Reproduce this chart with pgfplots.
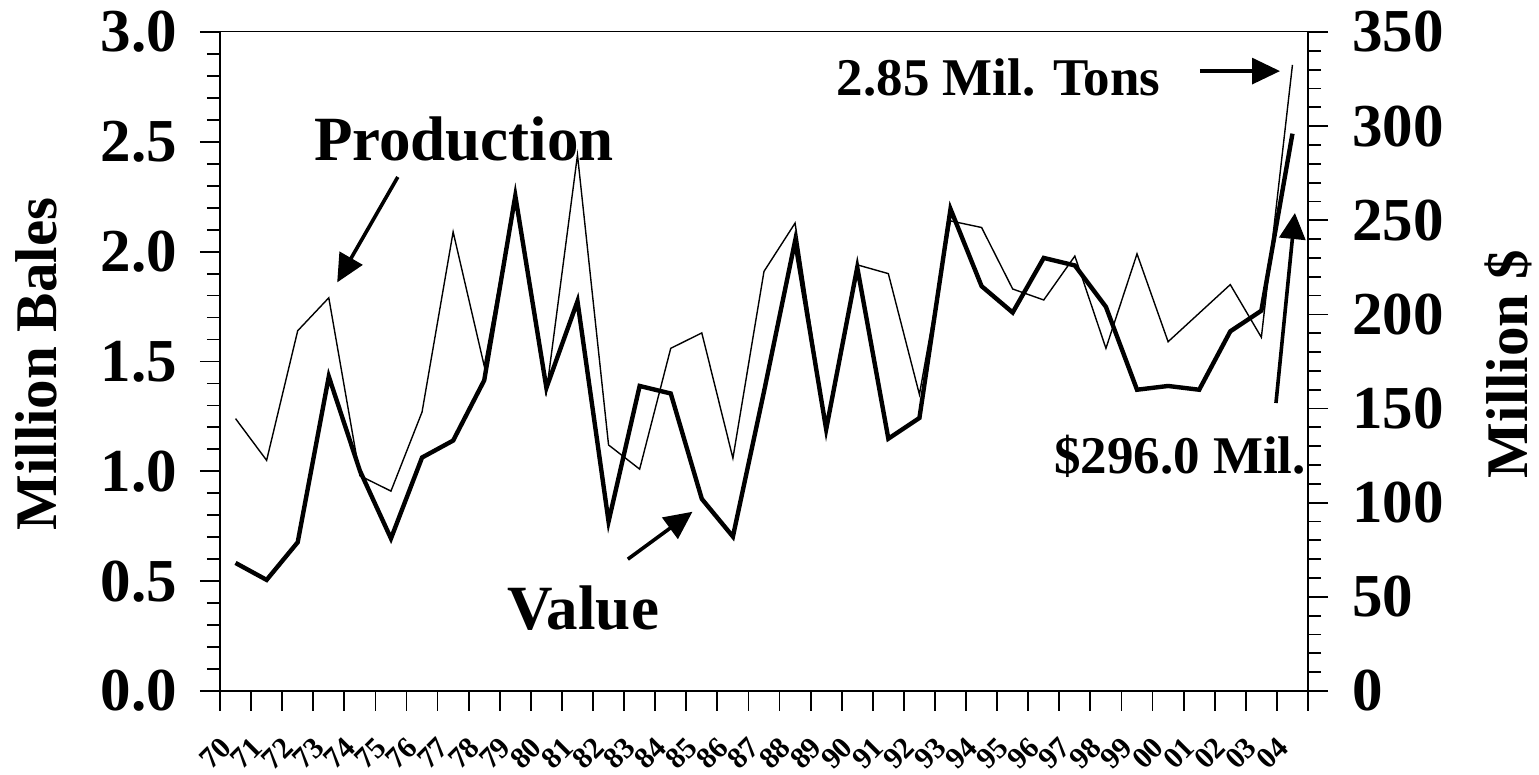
\documentclass[border=0pt]{standalone}
\usepackage{fontspec}
\setmainfont{Liberation Serif}
\usepackage{pgfplots}
\usepackage{pgfplotstable}
\pgfplotsset{compat=1.18}
\usetikzlibrary{arrows.meta}

\pgfplotstableread{
idx prod value
0 1.24 68
1 1.05 59
2 1.64 79
3 1.79 167
4 0.98 117
5 0.91 81
6 1.27 124
7 2.09 133
8 1.48 165
9 2.25 263
10 1.36 161
11 2.44 207
12 1.12 90
13 1.01 162
14 1.56 158
15 1.63 102
16 1.06 82
17 1.91 159
18 2.13 239
19 1.19 139
20 1.94 225
21 1.90 134
22 1.35 145
23 2.14 256
24 2.11 215
25 1.83 201
26 1.78 230
27 1.98 226
28 1.56 204
29 1.99 160
30 1.59 162
31 1.72 160
32 1.85 191
33 1.61 202
34 2.85 296
}\datatable

\newcommand{\tickfont}{\fontsize{30.5}{30.5}\selectfont\bfseries}
\newcommand{\labfont}{\fontsize{29.5}{29.5}\selectfont\bfseries}

\begin{document}
\begin{tikzpicture}
\begin{axis}[
  at={(0,0)}, anchor=south west,
  scale only axis, width=544pt, height=329.5pt,
  xmin=-0.5, xmax=34.5, ymin=0, ymax=3,
  axis x line*=bottom, axis y line*=left,
  axis line style={line width=0.9pt},
  tick align=outside,
  xtick={-0.5,0.5,...,34.5},
  x tick label as interval,
  xticklabels={70,71,72,73,74,75,76,77,78,79,80,81,82,83,84,85,86,87,88,89,90,91,92,93,94,95,96,97,98,99,00,01,02,03,04},
  xticklabel style={font=\fontsize{15}{15}\selectfont\bfseries, xshift=-4.75pt, yshift=-15.75pt, rotate=45, anchor=east, inner sep=0pt},
  ytick={0,0.5,1,1.5,2,2.5,3},
  minor y tick num=4,
  major tick length=10pt, minor tick length=6.5pt,
  every tick/.style={black, line width=0.9pt},
  /pgf/number format/assume math mode=true,
  yticklabel style={font=\tickfont, xshift=-8pt, /pgf/number format/fixed, /pgf/number format/precision=1, /pgf/number format/fixed zerofill},
  ylabel={Million Bales},
  every axis y label/.style={at={(axis description cs:-0.169,0.496)}, anchor=center, rotate=90, font=\labfont},
  clip=false,
]
\addplot[black, line width=0.7pt] table[x=idx, y=prod]{\datatable};
\draw[line width=0.5pt] (rel axis cs:0,1) -- (rel axis cs:1,1);
\node[font=\fontsize{31.5}{31.5}\selectfont\bfseries] at (axis cs:7.35,2.513) {Production};
\node[font=\fontsize{31.5}{31.5}\selectfont\bfseries] at (axis cs:11.18,0.378) {Value};
\node[font=\fontsize{26.5}{26.5}\selectfont\bfseries] at (axis cs:24.55,2.795) {2.85 Mil. Tons};
\node[font=\fontsize{26.5}{26.5}\selectfont\bfseries, anchor=east] at (axis cs:34.66,1.070) {\$296.0 Mil.};
\draw[line width=1.8pt, -{Triangle[length=14pt,width=13pt]}] (axis cs:5.22,2.34) -- (axis cs:3.27,1.86);
\draw[line width=1.8pt, -{Triangle[length=14pt,width=13pt]}] (axis cs:12.62,0.60) -- (axis cs:14.70,0.816);
\draw[line width=1.6pt, -{Triangle[length=14pt,width=13pt]}] (axis cs:31.02,2.822) -- (axis cs:33.60,2.822);
\draw[line width=1.8pt, -{Triangle[length=13pt,width=13pt]}] (axis cs:33.47,1.311) -- (axis cs:34.08,2.176);
\end{axis}
\begin{axis}[
  at={(0,0)}, anchor=south west,
  scale only axis, width=544pt, height=329.5pt,
  xmin=-0.5, xmax=34.5, ymin=0, ymax=350,
  axis x line=none, axis y line*=right,
  axis line style={line width=0.9pt},
  tick align=outside,
  ytick={0,50,100,150,200,250,300,350},
  minor y tick num=4,
  major tick length=10pt, minor tick length=6.5pt,
  every tick/.style={black, line width=0.9pt},
  /pgf/number format/assume math mode=true,
  yticklabel style={font=\tickfont, xshift=8.5pt},
  ylabel={Million \$},
  every axis y label/.style={at={(axis description cs:1.184,0.496)}, anchor=center, rotate=90, font=\labfont},
]
\addplot[black, line width=2.2pt] table[x=idx, y=value]{\datatable};
\end{axis}
\pgfresetboundingbox
\path[use as bounding box] (-110pt,-42pt) rectangle (659.5pt,345.5pt);
\end{tikzpicture}
\end{document}
